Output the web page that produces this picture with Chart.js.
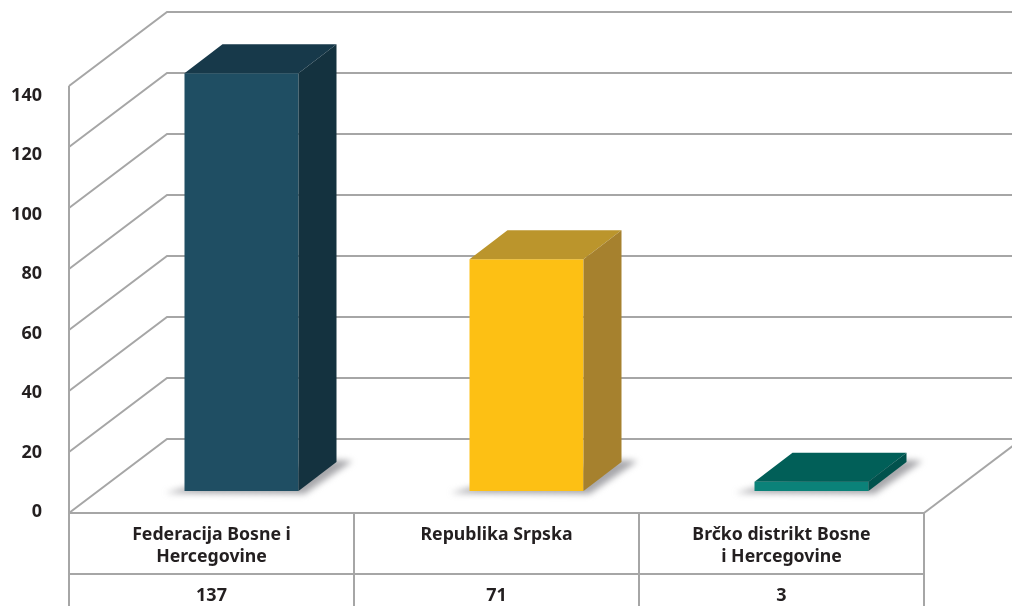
<!DOCTYPE html>
<html>
<head>
<meta charset="utf-8">
<script src="https://cdn.jsdelivr.net/npm/chart.js@4"></script>
<style>
    html, body { margin: 0; padding: 0; background: #fff; }
    canvas { display: block; }
</style>
</head>
<body>
<canvas id="grafico" width="1012" height="606"></canvas>
<script>
var categorias = [['Federacija Bosne i', 'Hercegovine'], ['Republika Srpska'], ['Brčko distrikt Bosne', 'i Hercegovine']];
var alturasBarras = [137, 76, 3];
var valoresTabela = ['137', '71', '3'];
var ticksY = [0, 20, 40, 60, 80, 100, 120, 140];

var coresFrente = ['#1f4e63', '#fdc014', '#0b8279'];
var coresTopo = ['#17394a', '#bb952c', '#015f58'];
var coresLado = ['#14323f', '#a6812e', '#01524d'];

var corLinha = '#a6a6a6';
var corTexto = '#231f20';

// perspective of the walls and of the bars
var paredeDx = 98, paredeDy = 74;
var barraDx = 30, barraDy = 22;
var fundoDx = 38, fundoDy = 29;

function linha(ctx, pontos) {
    ctx.beginPath();
    ctx.moveTo(pontos[0][0], pontos[0][1]);
    for (var i = 1; i < pontos.length; i++) ctx.lineTo(pontos[i][0], pontos[i][1]);
    ctx.stroke();
}

function poligono(ctx, pontos, cor) {
    ctx.fillStyle = cor;
    ctx.beginPath();
    ctx.moveTo(pontos[0][0], pontos[0][1]);
    for (var i = 1; i < pontos.length; i++) ctx.lineTo(pontos[i][0], pontos[i][1]);
    ctx.closePath();
    ctx.fill();
}

var paredes = {
    id: 'paredes',
    beforeDatasetsDraw: function (chart) {
        var ctx = chart.ctx, area = chart.chartArea, y = chart.scales.y;
        var h = chart.height;
        ctx.save();
        ctx.strokeStyle = corLinha;
        ctx.lineWidth = 2;

        // grid on the side and back wall
        ticksY.forEach(function (v) {
            var p = y.getPixelForValue(v);
            linha(ctx, [[area.left, p], [area.left + paredeDx, p - paredeDy], [area.right + paredeDx, p - paredeDy]]);
        });

        // right edge of the floor
        linha(ctx, [[area.right, area.bottom], [area.right + paredeDx, area.bottom - paredeDy]]);

        // table under the chart
        var larguraCat = (area.right - area.left) / categorias.length;
        linha(ctx, [[area.left, area.top], [area.left, h]]);
        linha(ctx, [[area.left, area.bottom], [area.right, area.bottom]]);
        linha(ctx, [[area.left, area.bottom + 61], [area.right, area.bottom + 61]]);
        for (var i = 1; i <= categorias.length; i++) {
            linha(ctx, [[area.left + i * larguraCat, area.bottom], [area.left + i * larguraCat, h]]);
        }

        // values row
        ctx.fillStyle = corTexto;
        ctx.font = 'bold 18px "Noto Sans"';
        ctx.textAlign = 'center';
        ctx.textBaseline = 'middle';
        valoresTabela.forEach(function (txt, i) {
            ctx.fillText(txt, chart.scales.x.getPixelForTick(i), area.bottom + 83);
        });
        ctx.restore();

        // soft shadow on the floor
        var barras = chart.getDatasetMeta(0).data;
        ctx.save();
        ctx.filter = 'blur(3px)';
        barras.forEach(function (b) {
            var x0 = b.x - b.width / 2 + barraDx, x1 = b.x + b.width / 2 + barraDx, base = b.base - barraDy;
            poligono(ctx, [[x0 - 19, base + 2], [x0, base - 3], [x1 + fundoDx, base - fundoDy - 2],
                [x1 + fundoDx + 16, base - fundoDy - 1], [x1 + 6, base + 3]], 'rgba(130,130,135,0.7)');
        });
        ctx.restore();

        // bars are drawn by the library, pushed back on the floor
        ctx.save();
        ctx.translate(barraDx, -barraDy);
    },
    afterDatasetsDraw: function (chart) {
        var ctx = chart.ctx;
        ctx.restore();
        chart.getDatasetMeta(0).data.forEach(function (b, i) {
            var x0 = b.x - b.width / 2 + barraDx, x1 = b.x + b.width / 2 + barraDx;
            var topo = b.y - barraDy, base = b.base - barraDy;
            poligono(ctx, [[x0, topo], [x0 + fundoDx, topo - fundoDy], [x1 + fundoDx, topo - fundoDy], [x1, topo]], coresTopo[i]);
            poligono(ctx, [[x1, topo], [x1 + fundoDx, topo - fundoDy], [x1 + fundoDx, base - fundoDy], [x1, base]], coresLado[i]);
        });
    }
};

new Chart(document.getElementById('grafico'), {
    type: 'bar',
    data: {
        labels: categorias,
        datasets: [{
            data: alturasBarras,
            backgroundColor: coresFrente,
            borderWidth: 0,
            barPercentage: 0.4,
            categoryPercentage: 1
        }]
    },
    plugins: [paredes],
    options: {
        responsive: false,
        animation: false,
        layout: { padding: { top: 86, right: 88, bottom: 0, left: 0 } },
        plugins: { legend: { display: false }, tooltip: { enabled: false }, title: { display: false } },
        scales: {
            x: {
                grid: { display: false },
                border: { display: false },
                afterFit: function (eixo) { eixo.height = 93; },
                ticks: {
                    color: corTexto,
                    maxRotation: 0,
                    autoSkip: false,
                    padding: 3,
                    font: { family: '"Noto Sans"', size: 17.7, weight: 'bold', lineHeight: 1.243 }
                }
            },
            y: {
                display: false,
                min: 0,
                max: 140
            },
            // tick labels in the picture sit a little off the grid lines
            rotulos: {
                position: 'left',
                min: -0.336,
                max: 143.2,
                grid: { display: false },
                border: { display: false },
                afterFit: function (eixo) { eixo.width = 69; },
                afterBuildTicks: function (eixo) {
                    eixo.ticks = ticksY.map(function (v) { return { value: v }; });
                },
                ticks: {
                    color: corTexto,
                    padding: 19,
                    font: { family: '"Noto Sans"', size: 18, weight: 'bold' }
                }
            }
        }
    }
});
</script>
</body>
</html>
